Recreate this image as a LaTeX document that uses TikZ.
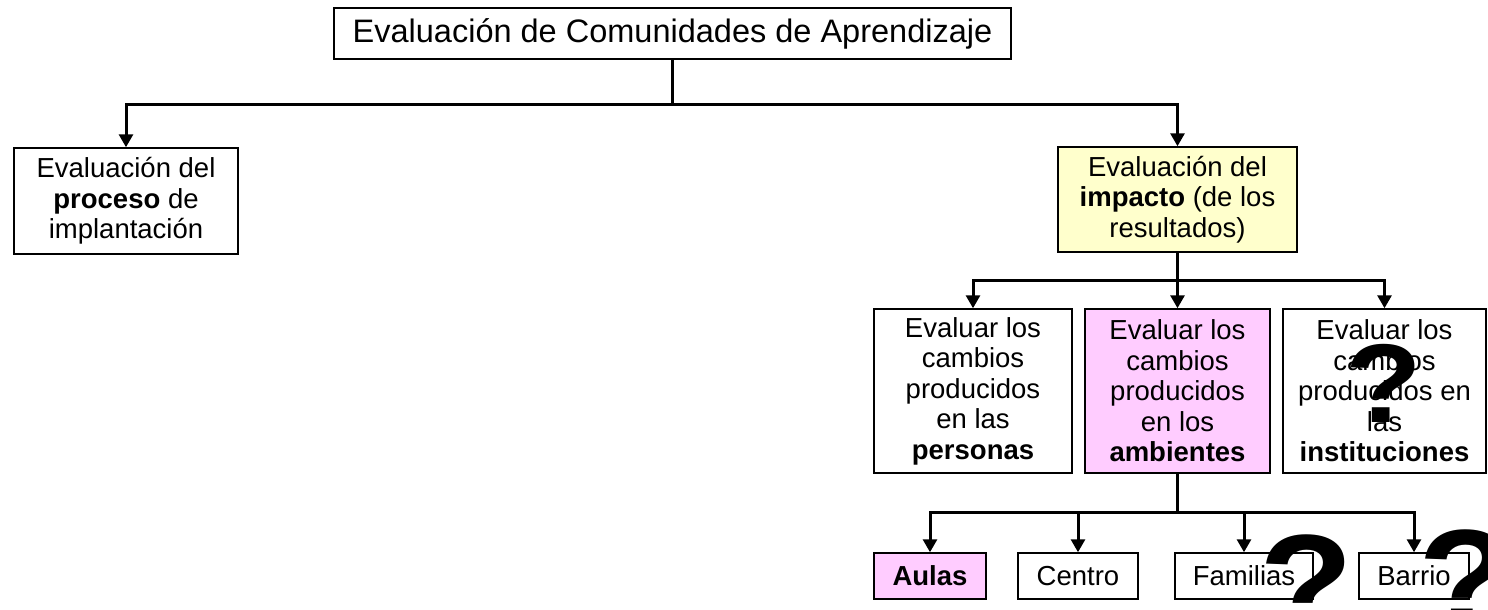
\documentclass[tikz,border=0pt]{standalone}
\usepackage{fontspec}
\setmainfont{Liberation Sans}
\usetikzlibrary{arrows.meta}
\definecolor{paleyellow}{HTML}{FFFFCC}
\definecolor{palepink}{HTML}{FFCCFF}
\tikzset{
  box/.style={draw=black, line width=1.5pt, fill=white, inner sep=0pt, align=center,
    font=\fontsize{27.5}{30.5}\selectfont},
  conn/.style={line width=3pt},
  arr/.style={line width=3pt, -{Triangle[length=13pt,width=14pt]}},
  qmark/.style={inner sep=0pt, anchor=base, xscale=1.12, font=\fontsize{112}{112}\selectfont\bfseries},
  bigq/.style={inner sep=0pt, anchor=base, xscale=1.1, font=\fontsize{140}{140}\selectfont\bfseries}
}
\begin{document}
\begin{tikzpicture}[x=1pt,y=-1pt]
\useasboundingbox (0,0) rectangle (1488,610);
\clip (0,0) rectangle (1488,610);
% level 0
\node[box, minimum width=677pt, minimum height=51pt, font=\fontsize{32.5}{36}\selectfont] (top) at (672.5,33.5) {Evaluación de Comunidades de Aprendizaje};
% level 1
\node[box, minimum width=224pt, minimum height=106pt] (proc) at (126,201) {Evaluación del\\\textbf{proceso} de\\implantación};
\node[box, fill=paleyellow, minimum width=239pt, minimum height=105pt] (imp) at (1177.5,199.5) {Evaluación del\\\textbf{impacto} (de los\\resultados)};
% level 2
\node[box, minimum width=198pt, minimum height=164pt] (per) at (973,391) {Evaluar los\\cambios\\producidos\\en las\\\textbf{personas}};
\node[box, fill=palepink, minimum width=185pt, minimum height=164pt] (amb) at (1177.5,391) {Evaluar los\\cambios\\producidos\\en los\\\textbf{ambientes}};
\node[box, minimum width=203pt, minimum height=164pt] (ins) at (1384.5,391) {Evaluar los\\cambios\\producidos en\\las\\\textbf{instituciones}};
% level 3
\node[box, fill=palepink, minimum width=112pt, minimum height=46pt] (aulas) at (930,576) {\textbf{Aulas}};
\node[box, minimum width=120pt, minimum height=46pt] (centro) at (1078,576) {Centro};
\node[box, minimum width=138pt, minimum height=46pt] (fam) at (1244,576) {Familias};
\node[box, minimum width=110pt, minimum height=46pt] (barrio) at (1414,576) {Barrio};
% connectors
\coordinate (j1) at (672.5,104);
\draw[conn] (top.south) -- (j1);
\draw[arr] (j1) -| (proc.north);
\draw[arr] (j1) -| (imp.north);
\coordinate (j2) at (1177.5,280);
\draw[conn] (imp.south) -- (j2);
\draw[arr] (j2) -| (per.north);
\draw[arr] (j2) -- (amb.north);
\draw[arr] (j2) -| (ins.north);
\coordinate (j3) at (1177.5,512);
\draw[conn] (amb.south) -- (j3);
\draw[arr] (j3) -| (aulas.north);
\draw[arr] (j3) -| (centro.north);
\draw[arr] (j3) -| (fam.north);
\draw[arr] (j3) -| (barrio.north);
% question marks
\node[qmark] (q1) at (1384,422) {?};
\node[bigq] (q2) at (1307,632) {?};
\node[bigq] (q3) at (1466,627) {?};
\end{tikzpicture}
\end{document}
